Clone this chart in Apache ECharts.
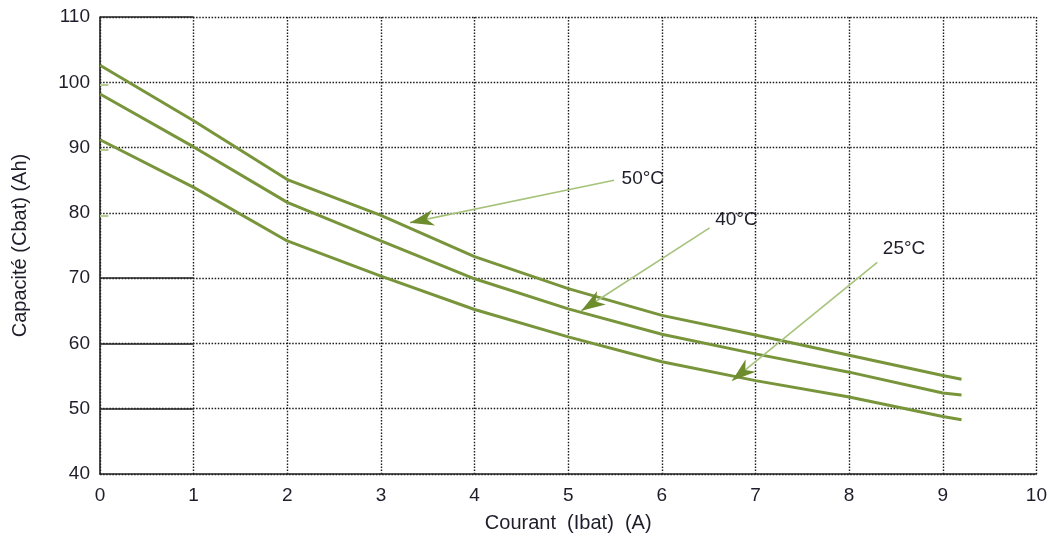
<!DOCTYPE html>
<html>
<head>
<meta charset="utf-8">
<script src="https://cdn.jsdelivr.net/npm/echarts@6/dist/echarts.min.js"></script>
<style>
  html, body { margin: 0; padding: 0; background: #fff; }
  #chart { width: 1050px; height: 540px; }
</style>
</head>
<body>
<div id="chart"></div>
<script>
// Discharge current (A) at which the capacity was measured
const courant = [0, 1, 2, 3, 4, 5, 6, 7, 8, 9, 9.2];

// Battery capacity (Ah) for each temperature
const cap50 = [102.6, 94.1, 85.1, 79.6, 73.3, 68.4, 64.3, 61.3, 58.2, 55.1, 54.5];
const cap40 = [98.2, 90.1, 81.6, 75.7, 69.9, 65.3, 61.4, 58.4, 55.6, 52.4, 52.1];
const cap25 = [91.2, 83.9, 75.7, 70.3, 65.2, 61.0, 57.2, 54.3, 51.8, 48.8, 48.3];

const temperatures = ['50°C', '40°C', '25°C'];

// Callouts in data units: text anchor, arrow tail, arrow tip
const calloutText = [[5.57, 85.2], [6.57, 78.9], [8.36, 74.5]];
const calloutTail = [[5.49, 85.0], [6.51, 77.7], [8.30, 72.4]];
const calloutTip  = [[3.31, 78.5], [5.14, 65.0], [6.75, 54.3]];

// Grid rows whose first cell is drawn with a solid rule
const solidRows = [110, 70, 60, 50];
// Short marks on the left axis
const axisMarks = [100, 90, 80];

const xTicks = [0, 1, 2, 3, 4, 5, 6, 7, 8, 9, 10];
const yTicks = [40, 50, 60, 70, 80, 90, 100, 110];

const curveColor = '#78953b';
const font = 'Liberation Sans, Arial, sans-serif';
const textColor = '#1e1e2a';

function pairs(ys) { return courant.map((x, i) => [x, ys[i]]); }

function curve(name, ys) {
  return {
    name: name,
    type: 'line',
    data: pairs(ys),
    showSymbol: false,
    symbol: 'none',
    smooth: false,
    lineStyle: { color: curveColor, width: 3 },
    z: 3,
    silent: true
  };
}

const gridStyle = { color: '#1a1a1a', width: 1.4, type: [1.5, 1.6] };

const chart = echarts.init(document.getElementById('chart'), null, { renderer: 'canvas' });

chart.setOption({
  animation: false,
  backgroundColor: '#fff',
  grid: { left: 100, right: 12, top: 17, bottom: 66, containLabel: false },
  xAxis: {
    type: 'value',
    min: xTicks[0], max: xTicks[xTicks.length - 1], interval: 1,
    name: 'Courant  (Ibat)  (A)',
    nameLocation: 'middle', nameGap: 39,
    nameTextStyle: { fontFamily: font, fontSize: 20, color: textColor },
    axisLine: { show: true, onZero: false, lineStyle: { color: '#222', width: 1.6 } },
    axisTick: { show: false },
    axisLabel: { fontFamily: font, fontSize: 19, color: textColor, margin: 12 },
    splitLine: { show: true, lineStyle: gridStyle }
  },
  yAxis: {
    type: 'value',
    min: yTicks[0], max: yTicks[yTicks.length - 1], interval: 10,
    name: 'Capacité (Cbat) (Ah)',
    nameLocation: 'middle', nameGap: 70,
    nameTextStyle: { fontFamily: font, fontSize: 20, color: textColor },
    axisLine: { show: true, onZero: false, lineStyle: { color: '#222', width: 1.6 } },
    axisTick: { show: false },
    axisLabel: { fontFamily: font, fontSize: 19, color: textColor, margin: 10 },
    splitLine: { show: true, lineStyle: gridStyle }
  },
  series: [
    curve(temperatures[0], cap50),
    curve(temperatures[1], cap40),
    curve(temperatures[2], cap25),
    {
      // solid rules along the first grid cell and small axis marks
      type: 'line',
      data: [],
      silent: true,
      markLine: {
        silent: true,
        symbol: ['none', 'none'],
        label: { show: false },
        animation: false,
        data: solidRows.map(v => [
          { coord: [0, v], lineStyle: { color: '#222', width: 1.6, type: 'solid' } },
          { coord: [1, v] }
        ]).concat(axisMarks.map(v => [
          { coord: [0, v - 0.4], lineStyle: { color: '#b7cc92', width: 2, type: 'solid' } },
          { coord: [0.09, v - 0.4] }
        ]))
      }
    },
    {
      // callout shafts and their temperature labels
      type: 'line',
      data: [],
      silent: true,
      z: 4,
      markLine: {
        silent: true,
        animation: false,
        symbol: ['none', 'none'],
        label: { show: false },
        lineStyle: { color: '#a6c37c', width: 1.6, type: 'solid' },
        data: calloutTail.map((t, i) => [{ coord: t }, { coord: calloutTip[i] }])
      },
      markPoint: {
        silent: true,
        animation: false,
        symbol: 'circle',
        symbolSize: 0,
        label: {
          show: true,
          position: 'right',
          distance: 0,
          fontFamily: font,
          fontSize: 19,
          color: textColor,
          formatter: p => p.name
        },
        data: calloutText.map((c, i) => ({ name: temperatures[i], coord: c }))
      }
    }
  ]
});

// Barbed arrowheads at the callout tips, placed through the grid's own scales
function arrowHeads() {
  const len = 24, half = 8, notch = 17;
  return calloutTip.map((tip, i) => {
    const p = chart.convertToPixel({ gridIndex: 0 }, tip);
    const q = chart.convertToPixel({ gridIndex: 0 }, calloutTail[i]);
    const dx = q[0] - p[0], dy = q[1] - p[1];
    const d = Math.hypot(dx, dy);
    const ux = dx / d, uy = dy / d;      // toward the tail
    const nx = -uy, ny = ux;             // normal
    const pts = [
      [p[0], p[1]],
      [p[0] + ux * len + nx * half, p[1] + uy * len + ny * half],
      [p[0] + ux * notch, p[1] + uy * notch],
      [p[0] + ux * len - nx * half, p[1] + uy * len - ny * half]
    ];
    return {
      type: 'polygon',
      shape: { points: pts },
      style: { fill: '#6d8c2c' },
      z: 10,
      silent: true
    };
  });
}

chart.setOption({ graphic: arrowHeads() });
</script>
</body>
</html>
